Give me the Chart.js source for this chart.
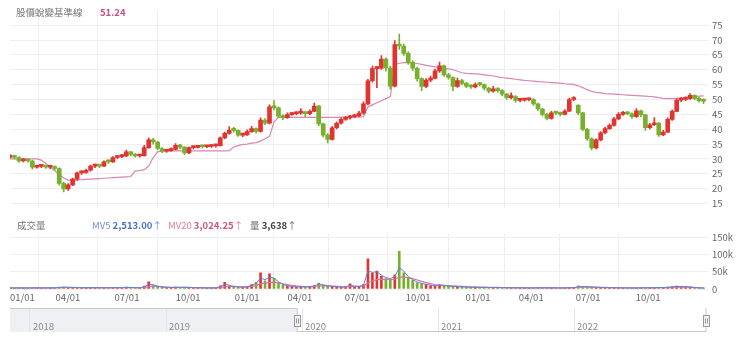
<!DOCTYPE html>
<html>
<head>
<meta charset="utf-8">
<title>股價蛻變基準線</title>
<script src="https://cdn.jsdelivr.net/npm/chart.js@4.4.1/dist/chart.umd.min.js"></script>
<style>
  html, body { margin: 0; padding: 0; background: #fff; }
  body { width: 740px; height: 344px; position: relative; overflow: hidden;
         font-family: "Noto Sans CJK TC", "Noto Sans", sans-serif; }
  canvas { position: absolute; left: 0; }
  #price { top: 0; }
  #volume { top: 224px; }
  #nav { top: 304px; }
  .legend { position: absolute; font-size: 9.5px; line-height: 12px; white-space: nowrap; color: #777; }
  .legend b { font-weight: 700; }
  #price-title { left: 16px; top: 6px; }
  #price-value { left: 100px; top: 6px; color: #c94f86; font-weight: 700; }
  #vol-title { left: 17px; top: 219px; }
  #mv5 { left: 92px; top: 219px; color: #6f8fdc; }
  #mv5 b { color: #4c70cc; }
  #mv20 { left: 168px; top: 219px; color: #e07b9c; }
  #mv20 b { color: #d2547c; }
  #vol-last { left: 250px; top: 219px; color: #666; }
  #vol-last b { color: #444; }
</style>
</head>
<body>
<canvas id="price" width="740" height="218"></canvas>
<canvas id="volume" width="740" height="82"></canvas>
<canvas id="nav" width="740" height="36"></canvas>

<div class="legend" id="price-title">股價蛻變基準線</div>
<div class="legend" id="price-value"></div>
<div class="legend" id="vol-title">成交量</div>
<div class="legend" id="mv5"></div>
<div class="legend" id="mv20"></div>
<div class="legend" id="vol-last"></div>

<script>
// weekly candles, 2020-01 .. 2022-12 (index = week number)
const open = [
  30.6, 30.9, 30.5, 29.3, 29.6, 29.3, 27.2, 27.5, 27.6, 27.2, 27.4, 26.8, 21.8, 19.9, 21.3, 23.2,
  25.3, 25.5, 26.2, 27.6, 27.9, 27.6, 29.2, 29.0, 30.5, 30.8, 31.0, 32.4, 31.5, 31.0, 31.1, 33.8,
  36.4, 35.7, 33.5, 32.6, 32.8, 33.2, 34.6, 34.0, 32.0, 33.8, 33.9, 34.3, 34.1, 34.2, 34.4, 34.5,
  37.1, 38.6, 40.2, 39.6, 38.0, 38.1, 39.2, 40.2, 39.3, 43.1, 42.0, 47.5, 47.2, 44.4, 43.9, 44.9,
  45.2, 45.4, 45.8, 45.2, 46.0, 47.8, 41.8, 38.0, 36.6, 40.5, 42.0, 43.3, 43.8, 44.2, 44.5, 45.4,
  48.5, 56.3, 60.4, 60.5, 63.6, 60.6, 54.5, 68.5, 68.0, 65.5, 62.5, 60.5, 57.0, 54.4, 56.5, 57.1,
  59.6, 61.3, 58.3, 57.4, 54.4, 56.4, 55.4, 54.5, 54.2, 55.4, 55.0, 53.8, 52.8, 53.6, 53.0, 51.8,
  50.6, 51.0, 49.7, 49.8, 49.9, 50.0, 48.5, 46.8, 45.0, 43.6, 45.5, 45.4, 45.0, 46.1, 50.0, 48.0,
  45.5, 40.0, 36.8, 33.7, 36.4, 38.8, 40.2, 41.3, 43.5, 45.0, 45.5, 45.2, 44.2, 46.2, 44.8, 40.5,
  41.5, 42.0, 38.1, 39.0, 43.3, 46.0, 49.8, 50.0, 50.3, 51.4, 50.4, 49.6
];
const high = [
  31.4, 31.3, 30.8, 30.1, 29.9, 29.5, 27.9, 28.0, 27.9, 27.8, 27.7, 27.0, 22.2, 21.7, 23.6, 25.6,
  26.0, 26.6, 27.9, 28.3, 28.2, 29.4, 29.6, 30.8, 31.2, 31.5, 33.0, 32.6, 31.8, 31.5, 34.6, 37.0,
  36.9, 35.9, 33.8, 33.2, 33.7, 35.2, 34.9, 34.2, 34.1, 34.3, 34.5, 34.6, 34.6, 34.8, 34.9, 37.4,
  39.0, 40.9, 40.6, 39.8, 38.6, 39.8, 41.0, 40.5, 43.8, 43.6, 48.2, 49.6, 47.5, 44.8, 45.5, 45.7,
  45.9, 46.9, 46.1, 46.5, 48.8, 48.0, 42.1, 38.5, 40.9, 42.5, 43.8, 44.3, 44.7, 45.0, 46.0, 49.2,
  56.8, 61.2, 61.0, 64.8, 64.0, 61.2, 69.8, 72.0, 68.6, 66.0, 63.0, 60.9, 57.3, 57.0, 57.9, 60.2,
  62.6, 61.6, 58.8, 57.6, 57.2, 56.8, 55.8, 55.0, 55.6, 55.8, 55.3, 54.1, 54.4, 54.0, 53.3, 52.1,
  52.2, 51.3, 50.3, 50.4, 50.5, 50.3, 48.8, 47.1, 45.4, 46.0, 46.0, 45.8, 46.6, 50.5, 51.0, 48.3,
  45.7, 40.3, 37.1, 36.8, 39.2, 40.7, 41.8, 44.0, 45.6, 46.0, 45.9, 45.5, 46.9, 46.4, 45.0, 42.0,
  43.9, 42.3, 39.6, 43.8, 46.5, 50.3, 50.6, 50.9, 52.0, 51.6, 50.8, 50.2
];
const low = [
  30.2, 30.0, 28.8, 29.0, 28.9, 26.6, 26.9, 27.1, 26.8, 26.7, 26.2, 21.2, 18.9, 19.4, 21.0, 22.9,
  24.8, 25.1, 25.9, 27.1, 27.1, 27.4, 28.5, 28.8, 30.1, 30.4, 30.8, 31.0, 30.6, 30.6, 30.9, 33.5,
  35.0, 33.0, 32.1, 32.2, 32.5, 33.0, 33.4, 31.4, 31.8, 33.4, 33.6, 33.7, 33.8, 33.9, 34.0, 34.3,
  36.8, 38.3, 39.0, 37.6, 37.5, 37.9, 38.9, 38.7, 39.0, 41.5, 41.8, 46.5, 43.9, 43.2, 43.6, 44.6,
  44.8, 45.1, 44.2, 44.9, 45.8, 41.2, 37.4, 35.4, 36.3, 40.1, 41.7, 43.0, 43.4, 43.9, 44.2, 45.1,
  48.2, 55.8, 54.0, 60.1, 59.5, 53.5, 54.2, 66.8, 64.8, 61.8, 59.8, 56.2, 53.0, 54.0, 56.0, 56.9,
  59.1, 57.8, 56.8, 53.0, 54.1, 54.9, 54.0, 53.7, 53.9, 54.5, 53.2, 52.2, 52.5, 52.5, 51.2, 50.0,
  50.2, 49.1, 49.2, 49.4, 49.5, 48.0, 46.3, 44.5, 43.1, 43.4, 44.9, 44.5, 44.8, 45.9, 49.6, 44.9,
  39.5, 36.2, 33.0, 33.4, 36.1, 38.4, 39.9, 41.0, 43.2, 44.6, 44.8, 43.6, 44.0, 44.2, 39.6, 40.1,
  41.2, 37.6, 37.8, 38.8, 43.0, 45.8, 49.3, 49.6, 50.0, 49.9, 49.1, 48.6
];
const close = [
  30.9, 30.5, 29.3, 29.6, 29.3, 27.2, 27.5, 27.6, 27.2, 27.4, 26.8, 21.8, 19.9, 21.3, 23.2, 25.3,
  25.5, 26.2, 27.6, 27.9, 27.6, 29.0, 29.0, 30.5, 30.8, 31.0, 32.4, 31.5, 31.0, 31.1, 33.8, 36.4,
  35.7, 33.5, 32.6, 32.8, 33.2, 34.6, 34.0, 32.0, 33.8, 33.9, 34.1, 34.1, 34.2, 34.4, 34.5, 37.1,
  38.6, 39.6, 39.6, 38.0, 38.1, 39.2, 40.2, 39.3, 43.1, 42.0, 47.5, 47.2, 44.4, 43.9, 44.9, 45.2,
  45.4, 45.8, 45.2, 46.0, 47.8, 41.8, 38.0, 36.6, 40.5, 42.0, 43.3, 43.8, 44.2, 44.5, 45.4, 48.5,
  56.3, 60.4, 60.5, 63.6, 60.6, 54.5, 68.5, 68.0, 65.5, 62.5, 60.5, 57.0, 54.4, 56.5, 57.1, 59.6,
  61.3, 58.3, 57.4, 54.4, 56.4, 55.4, 54.5, 54.2, 55.0, 55.0, 53.8, 52.8, 53.6, 53.0, 51.8, 50.6,
  51.0, 49.7, 49.8, 49.9, 50.0, 48.5, 46.8, 45.0, 43.6, 45.5, 45.4, 45.0, 46.1, 50.0, 50.2, 45.5,
  40.0, 36.8, 33.7, 36.4, 38.8, 40.2, 41.3, 43.5, 45.0, 45.5, 45.2, 44.2, 46.2, 44.8, 40.5, 41.5,
  42.0, 38.1, 39.0, 43.3, 46.0, 49.8, 50.0, 50.3, 51.4, 50.4, 49.6, 49.4
];
// 股價蛻變基準線
const baseLine = [
  30.0, 30.0, 30.0, 30.0, 30.0, 30.0, 30.0, 29.6, 28.5, 27.3, 26.0, 24.8, 23.6, 22.9, 22.8, 22.9,
  23.0, 23.1, 23.2, 23.3, 23.4, 23.5, 23.6, 23.7, 23.8, 23.9, 24.0, 24.1, 26.0, 26.1, 26.4, 27.6,
  30.5, 32.4, 32.7, 32.7, 32.7, 32.7, 32.7, 32.7, 32.7, 32.7, 32.7, 32.7, 32.7, 32.7, 32.7, 32.7,
  32.7, 32.8, 34.0, 34.5, 34.9, 35.0, 35.3, 35.5, 36.0, 36.8, 37.6, 42.4, 44.0, 44.0, 44.0, 44.0,
  44.0, 44.0, 44.0, 44.0, 44.0, 44.0, 44.0, 44.0, 44.0, 44.0, 44.1, 44.1, 44.1, 44.1, 44.1, 44.2,
  47.5, 48.2, 48.9, 49.6, 50.3, 51.0, 61.8, 62.2, 62.4, 62.4, 62.3, 62.1, 61.8, 61.5, 61.2, 61.0,
  60.7, 60.5, 60.3, 60.0, 59.5, 59.0, 58.8, 58.7, 58.6, 58.5, 58.3, 58.1, 57.9, 57.6, 57.4, 57.2,
  57.0, 56.8, 56.6, 56.4, 56.3, 56.2, 56.0, 55.9, 55.8, 55.7, 55.6, 55.5, 55.3, 55.2, 55.1, 54.6,
  54.0, 53.3, 52.7, 52.4, 52.2, 52.0, 51.9, 51.8, 51.7, 51.6, 51.5, 51.4, 51.3, 51.2, 51.1, 51.0,
  50.9, 50.6, 50.4, 50.3, 50.3, 50.4, 50.5, 50.7, 50.9, 51.0, 51.1, 51.24
];
const volume = [
  3200, 2800, 3500, 2600, 3000, 4200, 3100, 2900, 3300, 3600, 4000, 5200, 6000, 4500, 3800, 4200,
  3500, 3300, 4100, 3600, 3200, 3800, 3300, 4400, 3900, 4100, 5600, 4200, 3600, 3400, 8500, 21000,
  9600, 6200, 4800, 4000, 3900, 5300, 4600, 5100, 4300, 3500, 3300, 3100, 3000, 3200, 3400, 9200,
  19000, 8800, 6100, 5200, 5600, 7800, 12500, 19500, 47000, 24000, 44000, 31000, 17500, 11000, 8200, 6500,
  5800, 6200, 5500, 6900, 9800, 17000, 10500, 8600, 7400, 6000, 5200, 5600, 15000, 6400, 7200, 13000,
  87000, 46000, 52000, 37000, 30000, 28000, 41000, 109000, 47000, 31000, 25000, 18000, 15500, 12500, 10000, 8600,
  11800, 9300, 7800, 7200, 6600, 5800, 5400, 5000, 4800, 4500, 4300, 4100, 3900, 3800, 3600, 3700,
  3500, 3400, 3300, 3200, 3100, 3300, 3500, 3600, 3800, 3400, 3200, 3000, 3300, 4200, 3800, 9400,
  7200, 6100, 5800, 4600, 4200, 3900, 3600, 3800, 3500, 3300, 3100, 3000, 3400, 3200, 4100, 3600,
  3800, 4400, 3900, 5200, 6800, 8100, 7400, 6200, 5400, 4300, 3100, 3638
];
const mv5 = [
  3100, 3000, 3100, 3000, 2900, 3300, 3400, 3300, 3200, 3300, 3500, 4300, 5200, 5300, 4800, 4200,
  3900, 3600, 3700, 3800, 3500, 3600, 3500, 3900, 3800, 4000, 4800, 4600, 4000, 3600, 6000, 14000,
  12500, 8000, 5600, 4600, 4200, 4800, 4700, 4900, 4600, 3900, 3500, 3300, 3100, 3100, 3300, 6500,
  14000, 11000, 7500, 5800, 5500, 7000, 10500, 16500, 32000, 27000, 34000, 32000, 21000, 13500, 9500, 7200,
  6200, 6000, 5800, 6400, 8800, 14500, 12000, 9500, 8000, 6600, 5700, 5500, 11000, 8200, 7400, 11000,
  52000, 48000, 50000, 40000, 33000, 30000, 36000, 62000, 52000, 36000, 27000, 20000, 16500, 13500, 11000, 9200,
  10500, 9800, 8200, 7500, 6800, 6000, 5500, 5100, 4900, 4600, 4400, 4200, 4000, 3800, 3700, 3600,
  3500, 3400, 3300, 3200, 3100, 3200, 3400, 3500, 3700, 3500, 3300, 3100, 3200, 3900, 3900, 6800,
  7500, 6500, 5900, 5000, 4400, 4000, 3700, 3700, 3500, 3300, 3200, 3000, 3200, 3200, 3800, 3600,
  3700, 4200, 3900, 4800, 6200, 7400, 7200, 6400, 5600, 4500, 3400, 2513
];
const mv20 = [
  3300, 3200, 3200, 3100, 3100, 3200, 3200, 3200, 3200, 3200, 3300, 3600, 4000, 4300, 4400, 4400,
  4200, 4000, 3900, 3800, 3700, 3700, 3600, 3700, 3700, 3800, 4100, 4100, 4000, 3900, 4600, 7000,
  8200, 7800, 6800, 5800, 5000, 4800, 4700, 4700, 4600, 4300, 4000, 3800, 3600, 3400, 3300, 4200,
  7000, 8000, 7800, 7000, 6200, 6400, 7500, 9800, 15000, 17000, 18500, 19000, 17500, 15000, 12500, 10500,
  9000, 7800, 6800, 6500, 6800, 8600, 9200, 9000, 8400, 7600, 6800, 6400, 7600, 7800, 7600, 8200,
  18000, 23000, 27000, 28500, 27500, 27000, 29000, 34000, 35000, 33000, 30000, 26000, 22000, 18500, 15500, 13000,
  11800, 10800, 9800, 9000, 8300, 7600, 7000, 6400, 6000, 5600, 5300, 5000, 4700, 4500, 4300, 4100,
  3900, 3800, 3700, 3600, 3500, 3400, 3400, 3400, 3500, 3500, 3400, 3400, 3300, 3500, 3600, 4400,
  5000, 5300, 5400, 5200, 5000, 4600, 4300, 4000, 3800, 3600, 3500, 3400, 3300, 3300, 3400, 3400,
  3500, 3600, 3700, 3900, 4400, 5000, 5400, 5600, 5500, 4200, 3600, 3024.25
];

// quarter ticks (week index) and their labels
const quarterPos = [0, 12.96, 26.15, 39.8, 53.0, 64.8, 77.6, 91.2, 104.6, 116.5, 129.2, 142.6];
const quarterLabels = ['01/01', '04/01', '07/01', '10/01', '01/01', '04/01', '07/01', '10/01',
                       '01/01', '04/01', '07/01', '10/01'];
const weekEnd = 156;

const priceTicks = [15, 20, 25, 30, 35, 40, 45, 50, 55, 60, 65, 70, 75];
const volumeTicks = [0, 50000, 100000, 150000];

// navigator: years shown and the selected range
const navYears = [2018, 2019, 2020, 2021, 2022];
const navSpan = [2017.853, 2022.97];
const navSelected = [2019.965, 2022.97];

const FONT = '"Noto Sans CJK TC", "Noto Sans", sans-serif';
Chart.defaults.font.family = FONT;
Chart.defaults.font.size = 9.5;
Chart.defaults.color = '#666';
Chart.defaults.animation = false;
Chart.defaults.plugins.legend.display = false;
Chart.defaults.plugins.tooltip.enabled = false;

const UP = '#e2342f';
const DOWN = '#76b02d';
const gridColor = '#eeeeee';
const candleColor = close.map((c, i) => c >= open[i] ? UP : DOWN);
const pts = arr => arr.map((v, i) => ({ x: i, y: v }));

const fmt = (v, d) => v.toLocaleString('en-US', { minimumFractionDigits: d, maximumFractionDigits: d });
const last = arr => arr[arr.length - 1];
document.getElementById('price-value').textContent = fmt(last(baseLine), 2);
document.getElementById('mv5').innerHTML = 'MV5 <b>' + fmt(last(mv5), 2) + '</b>↑';
document.getElementById('mv20').innerHTML = 'MV20 <b>' + fmt(last(mv20), 2) + '</b>↑';
document.getElementById('vol-last').innerHTML = '量 <b>' + fmt(last(volume), 0) + '</b>↑';

const quarterAxis = (showLabels) => ({
  type: 'linear',
  min: 0,
  max: weekEnd,
  offset: false,
  border: { display: false },
  grid: {
    drawTicks: false,
    color: c => c.index < quarterPos.length ? gridColor : 'transparent'
  },
  afterBuildTicks: s => {
    s.ticks = quarterPos.concat([weekEnd]).map(v => ({ value: v }));
  },
  afterFit: s => { s.height = showLabels ? 17 : 0; },
  ticks: {
    display: showLabels,
    autoSkip: false,
    maxRotation: 0,
    align: 'inner',
    padding: 3,
    color: '#666',
    callback: (v, i) => quarterLabels[i] || ''
  }
});

// price panel: candles + base line
new Chart(document.getElementById('price'), {
  type: 'bar',
  data: {
    datasets: [
      {
        type: 'line',
        data: pts(baseLine),
        borderColor: '#d986b1',
        borderWidth: 1.2,
        pointRadius: 0,
        order: 3
      },
      {
        data: close.map((c, i) => ({ x: i, y: [low[i], high[i]] })),
        backgroundColor: candleColor,
        barThickness: 1,
        grouped: false,
        order: 2
      },
      {
        data: close.map((c, i) => ({ x: i, y: [open[i], c] })),
        backgroundColor: candleColor,
        barThickness: 4,
        minBarLength: 2,
        grouped: false,
        order: 1
      }
    ]
  },
  options: {
    responsive: false,
    layout: { padding: { left: 10, top: 8, bottom: 3, right: 0 } },
    scales: {
      x: quarterAxis(false),
      y: {
        position: 'right',
        min: 13.4,
        max: 80.2,
        border: { display: false },
        grid: { drawTicks: false, color: gridColor },
        afterBuildTicks: s => { s.ticks = priceTicks.map(v => ({ value: v })); },
        afterFit: s => { s.width = 32; },
        ticks: { padding: 4, color: '#666' }
      }
    }
  }
});

// volume panel
new Chart(document.getElementById('volume'), {
  type: 'bar',
  data: {
    datasets: [
      {
        type: 'line',
        data: pts(mv5),
        borderColor: '#5b84d8',
        borderWidth: 1,
        pointRadius: 0,
        order: 1
      },
      {
        type: 'line',
        data: pts(mv20),
        borderColor: '#d9739f',
        borderWidth: 1.2,
        pointRadius: 0,
        order: 2
      },
      {
        data: pts(volume),
        backgroundColor: candleColor,
        barThickness: 2,
        grouped: false,
        order: 3
      }
    ]
  },
  options: {
    responsive: false,
    layout: { padding: { left: 10, top: 8.5, bottom: 0, right: 0 } },
    scales: {
      x: quarterAxis(true),
      y: {
        position: 'right',
        min: 0,
        max: 160000,
        border: { display: false },
        grid: { drawTicks: false, color: gridColor },
        afterBuildTicks: s => { s.ticks = volumeTicks.map(v => ({ value: v })); },
        afterFit: s => { s.width = 32; },
        ticks: {
          padding: 4,
          color: '#666',
          callback: v => v === 0 ? '0' : (v / 1000) + 'k'
        }
      }
    }
  }
});

// navigator strip: shaded unselected part, outline, handles and year names
const navMask = {
  id: 'navMask',
  beforeDatasetsDraw(chart) {
    const { ctx, chartArea: a, scales: { x } } = chart;
    const x0 = x.getPixelForValue(navSelected[0]);
    const x1 = x.getPixelForValue(navSelected[1]);
    ctx.save();
    ctx.fillStyle = 'rgba(226, 230, 236, 0.6)';
    ctx.fillRect(a.left, a.top, x0 - a.left, a.bottom - a.top);

    ctx.fillStyle = '#8a8a8a';
    ctx.font = '9.5px ' + FONT;
    ctx.textBaseline = 'middle';
    navYears.forEach(y => ctx.fillText(String(y), x.getPixelForValue(y) + 3, a.bottom - 6));

    ctx.strokeStyle = '#c8c8c8';
    ctx.lineWidth = 1;
    ctx.beginPath();
    ctx.moveTo(a.left, a.top + 0.5);
    ctx.lineTo(x0, a.top + 0.5);
    ctx.lineTo(x0, a.bottom - 0.5);
    ctx.lineTo(x1, a.bottom - 0.5);
    ctx.lineTo(x1, a.top);
    ctx.stroke();
    [x0, x1].forEach(px => {
      const hx = Math.round(px) - 2.5, hy = a.top + 7.5;
      ctx.fillStyle = '#f2f2f2';
      ctx.strokeStyle = '#999';
      ctx.fillRect(hx, hy, 6, 11);
      ctx.strokeRect(hx, hy, 6, 11);
      ctx.beginPath();
      ctx.moveTo(hx + 2, hy + 3); ctx.lineTo(hx + 2, hy + 8);
      ctx.moveTo(hx + 4, hy + 3); ctx.lineTo(hx + 4, hy + 8);
      ctx.stroke();
    });
    ctx.restore();
  }
};

new Chart(document.getElementById('nav'), {
  type: 'line',
  data: { datasets: [{ data: [] }] },
  options: {
    responsive: false,
    layout: { padding: { left: 10, top: 4, bottom: 0, right: 34 } },
    scales: {
      x: {
        type: 'linear',
        min: navSpan[0],
        max: navSpan[1],
        border: { display: false },
        grid: { drawTicks: false, color: '#e4e4e4' },
        afterBuildTicks: s => { s.ticks = navYears.map(v => ({ value: v })); },
        afterFit: s => { s.height = 8; },
        ticks: { display: false }
      },
      y: { display: false, min: 0, max: 1 }
    }
  },
  plugins: [navMask]
});
</script>
</body>
</html>
